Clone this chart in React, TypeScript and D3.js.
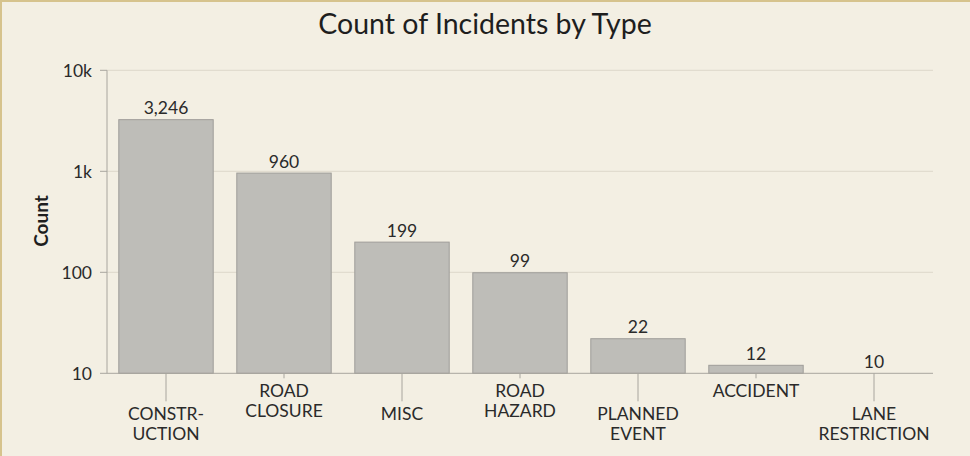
import React, { useEffect, useRef } from "react";
import * as d3 from "d3";

const categories = ["CONSTRUCTION", "ROAD CLOSURE", "MISC", "ROAD HAZARD", "PLANNED EVENT", "ACCIDENT", "LANE RESTRICTION"];
const categoryLines = [["CONSTR-", "UCTION"], ["ROAD", "CLOSURE"], ["MISC"], ["ROAD", "HAZARD"], ["PLANNED", "EVENT"], ["ACCIDENT"], ["LANE", "RESTRICTION"]];
const counts = [3246, 960, 199, 99, 22, 12, 10];
const yTicks = [10, 100, 1000, 10000];
const yTickLabels = ["10", "100", "1k", "10k"];

const W = 970;
const H = 456;
const FONT = "Lato, 'Open Sans', sans-serif";

export default function App() {
  const ref = useRef<SVGSVGElement>(null);

  useEffect(() => {
    const svg = d3.select(ref.current);
    svg.selectAll("*").remove();

    const left = 107, right = 933, top = 70.3, bottom = 373.3;

    svg.append("rect").attr("width", W).attr("height", H).attr("fill", "#f3efe3");
    svg.append("rect").attr("x", 0).attr("y", 0).attr("width", W).attr("height", 2).attr("fill", "#d6c38d");
    svg.append("rect").attr("x", 0).attr("y", 0).attr("width", 2).attr("height", H).attr("fill", "#d6c38d");

    const x = d3.scaleBand<string>().domain(categories).range([left, right]).paddingInner(0.2).paddingOuter(0.1);
    const y = d3.scaleLog().domain([10, 10000]).range([bottom, top]);

    svg.append("g").selectAll("line").data(yTicks.slice(1)).join("line")
      .attr("x1", left).attr("x2", right)
      .attr("y1", d => y(d)).attr("y2", d => y(d))
      .attr("stroke", "#dcd7ca").attr("stroke-width", 1);

    svg.append("g").selectAll("rect").data(counts).join("rect")
      .attr("x", (d, i) => x(categories[i])!)
      .attr("width", x.bandwidth())
      .attr("y", d => y(d))
      .attr("height", d => Math.max(0, bottom - y(d)))
      .attr("fill", "#bebdb8")
      .attr("stroke", "#9f9d99")
      .attr("stroke-width", 1);

    svg.append("g").selectAll("text").data(counts).join("text")
      .attr("x", (d, i) => x(categories[i])! + x.bandwidth() / 2)
      .attr("y", d => y(d) - 5.5)
      .attr("text-anchor", "middle")
      .attr("font-family", FONT)
      .attr("font-size", 17.5)
      .attr("fill", "#2a2a2a")
      .text(d => d3.format(",")(d));

    svg.append("line").attr("x1", left).attr("x2", left).attr("y1", top).attr("y2", bottom)
      .attr("stroke", "#a8a59e");
    svg.append("line").attr("x1", left).attr("x2", right).attr("y1", bottom).attr("y2", bottom)
      .attr("stroke", "#a8a59e");

    const yt = svg.append("g");
    yt.selectAll("line").data(yTicks).join("line")
      .attr("x1", left - 7).attr("x2", left)
      .attr("y1", d => y(d)).attr("y2", d => y(d))
      .attr("stroke", "#a8a59e");
    yt.selectAll("text").data(yTicks).join("text")
      .attr("x", 92).attr("y", d => y(d))
      .attr("dy", "0.36em")
      .attr("text-anchor", "end")
      .attr("font-family", FONT)
      .attr("font-size", 17.5)
      .attr("fill", "#2a2a2a")
      .text((d, i) => yTickLabels[i]);

    const xt = svg.append("g");
    categories.forEach((c, i) => {
      const cx = x(c)! + x.bandwidth() / 2;
      const long = i % 2 === 0;
      const tickLen = long ? 28 : 5;
      xt.append("line").attr("x1", cx).attr("x2", cx).attr("y1", bottom).attr("y2", bottom + tickLen)
        .attr("stroke", "#a8a59e");
      const firstY = long ? 420 : 397;
      categoryLines[i].forEach((ln, j) => {
        xt.append("text")
          .attr("x", cx).attr("y", firstY + j * 19.5)
          .attr("text-anchor", "middle")
          .attr("font-family", FONT)
          .attr("font-size", 17.5)
          .attr("fill", "#2a2a2a")
          .text(ln);
      });
    });

    svg.append("text").attr("x", 485).attr("y", 34)
      .attr("text-anchor", "middle")
      .attr("font-family", FONT)
      .attr("font-size", 28.5)
      .attr("fill", "#1e1e1e")
      .text("Count of Incidents by Type");

    svg.append("text")
      .attr("transform", `translate(48, 221) rotate(-90)`)
      .attr("text-anchor", "middle")
      .attr("font-family", FONT)
      .attr("font-weight", "bold")
      .attr("font-size", 19)
      .attr("fill", "#1e1e1e")
      .text("Count");
  }, []);

  return (
    <div style={{ position: "fixed", left: 0, top: 0, width: W, height: H }}>
      <svg ref={ref} width={W} height={H} style={{ display: "block" }} />
    </div>
  );
}
